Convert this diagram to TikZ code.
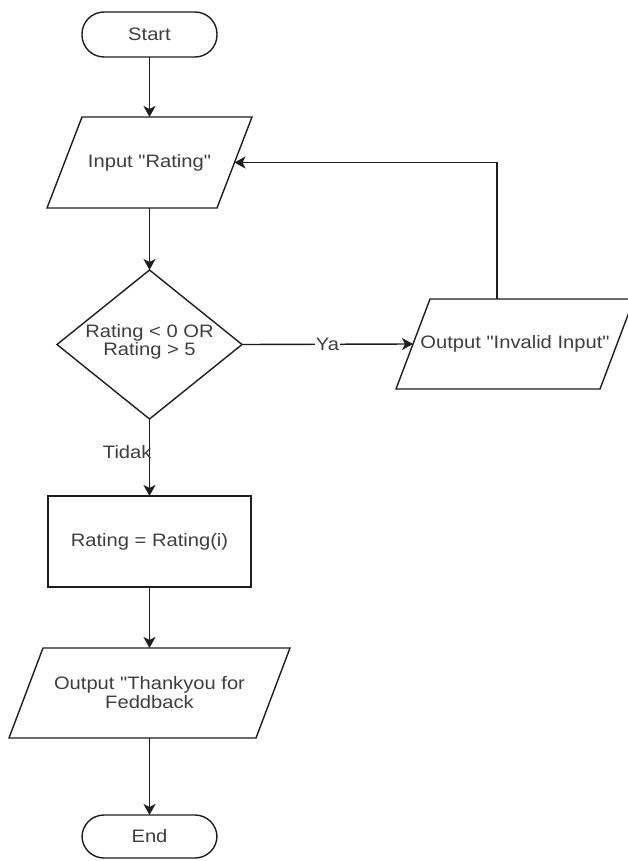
\documentclass[tikz,border=0pt]{standalone}
\usepackage{fontspec}
\setmainfont{Liberation Sans}[FakeStretch=1.12, Ligatures=TeXOff]
\usetikzlibrary{arrows.meta,shapes.geometric}
\definecolor{txtgray}{RGB}{62,62,62}
\definecolor{linec}{RGB}{30,30,30}
\tikzset{
  base/.style={inner sep=0pt, outer sep=0pt, text=txtgray, font=\fontsize{18}{15}\selectfont, align=center},
  term/.style={base, draw=linec, line width=1.4pt, rounded corners=22pt, minimum width=135pt},
  procbox/.style={base, draw=linec, line width=1.4pt, minimum width=203pt, minimum height=91pt},
  decbox/.style={base, draw=linec, line width=1.4pt, diamond, minimum width=185pt, minimum height=149pt},
  parabox/.style={base},
  parashape/.style={draw=linec, line width=1.4pt, line join=miter},
  conn/.style={draw=linec, line width=1.4pt, -{Stealth[length=11pt,width=12pt,inset=3pt]}},
  lbl/.style={base}
}
\begin{document}
\begin{tikzpicture}[x=1pt,y=-1pt]
\useasboundingbox (0,0) rectangle (628,861);
\fill[white] (0,0) rectangle (628,861);

% Terminals
\node[term, minimum height=45pt] (start) at (149.5,34.5) {Start};
\node[term, minimum height=43pt] (end) at (149.5,836.5) {End};

% Input parallelogram
\node[parabox, minimum width=170pt, minimum height=91pt] (inp) at (149.5,162.5) {Input "Rating"};
\draw[parashape] ([xshift=-17.5pt]inp.south west) -- ([xshift=-17.5pt]inp.south east)
  -- ([xshift=17.5pt]inp.north east) -- ([xshift=17.5pt]inp.north west) -- cycle;

% Decision
\node[decbox] (dec) at (149.5,344.5) {};
\node[base] (dectxt) at (149.5,342) {Rating < 0 OR\\Rating > 5};

% Output invalid
\node[parabox, minimum width=204pt, minimum height=90pt] (oi) at (515,344) {Output "Invalid Input"};
\draw[parashape] ([xshift=-17pt]oi.south west) -- ([xshift=-17pt]oi.south east)
  -- ([xshift=17pt]oi.north east) -- ([xshift=17pt]oi.north west) -- cycle;

% Process
\node[procbox] (proc) at (149.5,541.5) {Rating = Rating(i)};

% Output thank you
\node[parabox, minimum width=247pt, minimum height=90pt, font=\fontsize{18}{19}\selectfont] (ty) at (149.5,693) {Output "Thankyou for\\Feddback};
\draw[parashape] ([xshift=-17pt]ty.south west) -- ([xshift=-17pt]ty.south east)
  -- ([xshift=17pt]ty.north east) -- ([xshift=17pt]ty.north west) -- cycle;

% Connectors
\draw[conn] (start.south) -- (inp.north);
\draw[conn] (inp.south) -- (dec.north);
\draw[conn] (dec.east) -- node[lbl, fill=white, inner sep=1pt] (ya) {Ya} (oi.west);
\draw[conn] ([xshift=-18pt]oi.north) |- (inp.east);
\draw[conn] (dec.south) -- node[lbl, pos=0.43, anchor=east, xshift=2pt] (tidak) {Tidak} (proc.north);
\draw[conn] (proc.south) -- (ty.north);
\draw[conn] (ty.south) -- (end.north);
\end{tikzpicture}
\end{document}
